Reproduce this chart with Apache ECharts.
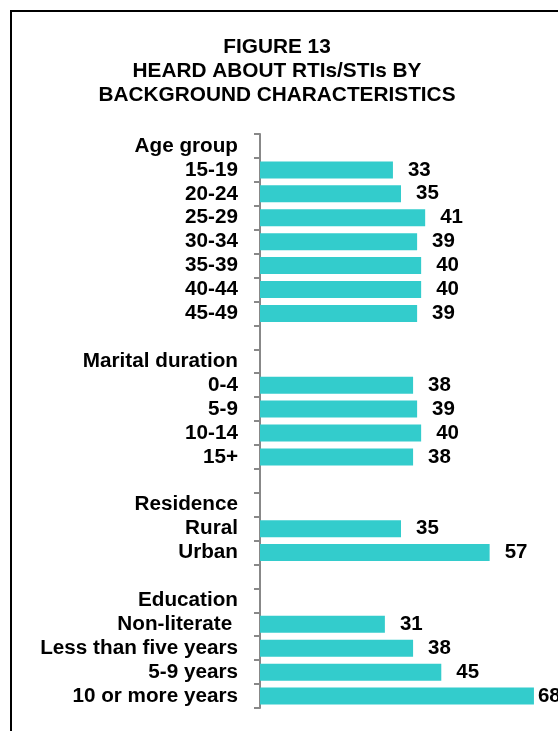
<!DOCTYPE html>
<html>
<head>
<meta charset="utf-8">
<script src="https://cdn.jsdelivr.net/npm/echarts@6/dist/echarts.min.js"></script>
<style>
  html, body { margin: 0; padding: 0; background: #fff; }
  #chart { width: 558px; height: 731px; }
</style>
</head>
<body>
<div id="chart"></div>
<script>
// ---- data ----
var titleLines = ['FIGURE 13', 'HEARD ABOUT RTIs/STIs BY', 'BACKGROUND CHARACTERISTICS'];

var ageHeader = 'Age group';
var ageGroups = ['15-19', '20-24', '25-29', '30-34', '35-39', '40-44', '45-49'];
var ageValues = [33, 35, 41, 39, 40, 40, 39];

var maritalHeader = 'Marital duration';
var maritalGroups = ['0-4', '5-9', '10-14', '15+'];
var maritalValues = [38, 39, 40, 38];

var residenceHeader = 'Residence';
var residenceGroups = ['Rural', 'Urban'];
var residenceValues = [35, 57];

var educationHeader = 'Education';
var educationGroups = ['Non-literate ', 'Less than five years', '5-9 years', '10 or more years'];
var educationValues = [31, 38, 45, 68];

// ---- build category list with header and blank rows ----
var groups = [
  [ageHeader, ageGroups, ageValues],
  [maritalHeader, maritalGroups, maritalValues],
  [residenceHeader, residenceGroups, residenceValues],
  [educationHeader, educationGroups, educationValues]
];
var categories = [];
var values = [];
groups.forEach(function (g, gi) {
  if (gi > 0) { categories.push(new Array(gi + 1).join(' ')); values.push(null); }
  categories.push(g[0]); values.push(null);
  g[1].forEach(function (c, i) { categories.push(c); values.push(g[2][i]); });
});
var lastIdx = values.length - 1;
var seriesData = values.map(function (v, i) {
  if (i === lastIdx) return { value: v, label: { distance: 4 } };
  return v;
});

var FONT = '"Liberation Sans", Arial, Helvetica, sans-serif';

var chart = echarts.init(document.getElementById('chart'), null, { renderer: 'canvas' });
chart.setOption({
  animation: false,
  backgroundColor: '#ffffff',
  title: {
    text: titleLines.join('\n'),
    left: 277,
    top: 35,
    textAlign: 'center',
    padding: 0,
    textStyle: {
      fontFamily: FONT,
      fontSize: 20.8,
      fontWeight: 'bold',
      color: '#000',
      lineHeight: 24
    }
  },
  graphic: [{
    type: 'rect',
    shape: { x: 11, y: 11, width: 800, height: 900 },
    style: { fill: 'none', stroke: '#000', lineWidth: 2 },
    silent: true
  }],
  grid: { left: 260, top: 134, width: 282, height: 574, containLabel: false },
  xAxis: {
    type: 'value',
    min: 0,
    max: 70,
    show: false
  },
  yAxis: {
    type: 'category',
    inverse: true,
    data: categories,
    axisLine: { show: true, lineStyle: { color: '#888888', width: 2 } },
    axisTick: { show: true, interval: 0, length: 6, lineStyle: { color: '#888888', width: 2 } },
    axisLabel: {
      interval: 0,
      margin: 22,
      fontFamily: FONT,
      fontSize: 20.7,
      fontWeight: 'bold',
      color: '#000'
    },
    splitLine: { show: false }
  },
  series: [{
    type: 'bar',
    data: seriesData,
    barWidth: 17,
    itemStyle: { color: '#33CCCC' },
    label: {
      show: true,
      position: 'right',
      distance: 15,
      fontFamily: FONT,
      fontSize: 20.5,
      fontWeight: 'bold',
      color: '#000'
    }
  }]
});
</script>
</body>
</html>
